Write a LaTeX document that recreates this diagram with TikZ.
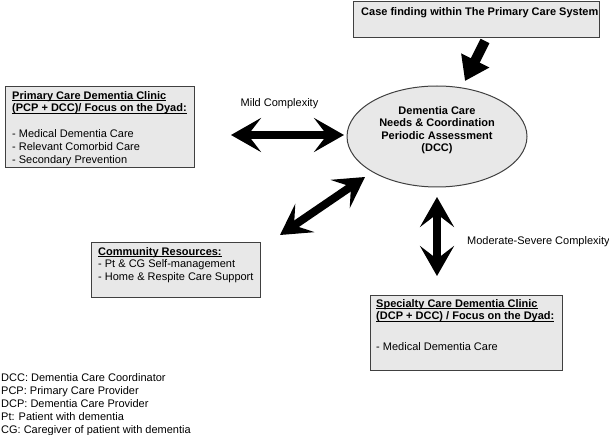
\documentclass[tikz,border=0pt]{standalone}
\usepackage{fontspec}
\setmainfont{Liberation Sans}
\usetikzlibrary{arrows.meta,shapes.geometric}
\newcommand{\myul}[1]{\setbox0\hbox{#1}\rlap{\rule[-1.8pt]{\wd0}{0.7pt}}\box0}
\begin{document}
\begin{tikzpicture}[x=1pt,y=-1pt,
  box/.style={draw=black!75, line width=1pt, fill=black!9, inner sep=0pt, anchor=north west},
  txt/.style={align=left, anchor=north west, inner sep=0pt, font=\fontsize{11}{12.8}\selectfont},
  lbl/.style={inner sep=0pt, font=\fontsize{11}{13}\selectfont},
  bighead/.tip={Stealth[length=30pt,width=34pt,inset=13pt]},
  bigarrow/.style={line width=8pt, bighead-bighead},
  downarrow/.style={line width=10pt, -{Triangle[length=23pt,width=30pt]}},
]
\useasboundingbox (0,0) rectangle (609,435);

% boxes
\node[box, minimum width=246pt, minimum height=36pt] (case) at (353,1) {};
\node[box, minimum width=189pt, minimum height=81pt] (pc) at (5,86) {};
\node[box, minimum width=169pt, minimum height=55pt] (cr) at (91,242) {};
\node[box, minimum width=192pt, minimum height=75pt] (sc) at (370,295) {};
\node[draw=black!75, line width=1pt, fill=black!9, ellipse, minimum width=180pt, minimum height=101pt, inner sep=0pt] (dcc) at (437,136.5) {};

% box texts
\node[txt] (casetext) at (361,7) {\textbf{Case finding within The Primary Care System}};
\node[txt] (pctext) at (12,91) {\myul{\textbf{Primary Care Dementia Clinic}}\\
  \myul{\textbf{(PCP + DCC)/ Focus on the Dyad:}}\\[12.8pt]
  - Medical Dementia Care\\
  - Relevant Comorbid Care\\
  - Secondary Prevention};
\node[txt] (crtext) at (98,247) {\myul{\textbf{Community Resources:}}\\
  - Pt \& CG Self-management\\
  - Home \& Respite Care Support};
\node[txt] (sctext) at (376,299) {\myul{\textbf{Specialty Care Dementia Clinic}}\\
  \myul{\textbf{(DCP + DCC) / Focus on the Dyad:}}\\[18pt]
  - Medical Dementia Care};
\node[align=center, inner sep=0pt, font=\bfseries\fontsize{11}{12.5}\selectfont] (dcctext) at (437,130)
  {Dementia Care\\ Needs \& Coordination\\ Periodic Assessment\\ (DCC)};

% labels
\node[lbl] (mild) at (279.5,104) {Mild Complexity};
\node[lbl, anchor=west] (mod) at (467,242) {Moderate-Severe Complexity};
\node[txt, font=\fontsize{11}{13}\selectfont] (legend) at (1,373) {DCC: Dementia Care Coordinator\\
  PCP: Primary Care Provider\\
  DCP: Dementia Care Provider\\
  Pt: Patient with dementia\\
  CG: Caregiver of patient with dementia};

% arrows
\coordinate (t1) at (485,41);
\coordinate (t2) at (465,81);
\coordinate (h1) at (231,135);
\coordinate (h2) at (344,135);
\coordinate (d1) at (280,235);
\coordinate (d2) at (365,177);
\coordinate (v1) at (437,197);
\coordinate (v2) at (437,276);
\draw[downarrow] (t1) -- (t2);
\draw[bigarrow] (h1) -- (h2);
\draw[bigarrow] (d1) -- (d2);
\draw[bigarrow] (v1) -- (v2);
\end{tikzpicture}
\end{document}
